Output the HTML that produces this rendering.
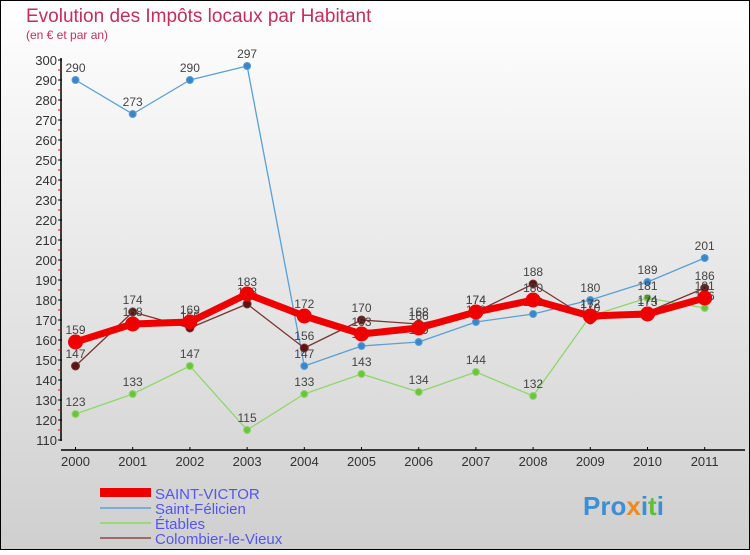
<!DOCTYPE html>
<html><head><meta charset="utf-8"><style>
body{margin:0;width:750px;height:550px;overflow:hidden;font-family:"Liberation Sans",sans-serif}
svg text{font-family:"Liberation Sans",sans-serif}
</style></head><body>
<svg id="chart" width="750" height="550" xmlns="http://www.w3.org/2000/svg">
<defs><linearGradient id="bg" x1="0" y1="0" x2="0" y2="1"><stop offset="0" stop-color="#ffffff"/><stop offset="1" stop-color="#cfcfcf"/></linearGradient></defs>
<rect x="0.5" y="0.5" width="749" height="549" fill="url(#bg)" stroke="#000"/>
<text x="26" y="22" font-size="19" fill="#c0305a">Evolution des Impôts locaux par Habitant</text>
<text x="26" y="39" font-size="12" fill="#c0305a">(en € et par an)</text>
<g id="axes"></g>
<g id="series"></g>
<g id="legend">
<rect x="100" y="488" width="51" height="9" fill="#e00"/>
<text x="155" y="499" font-size="15" fill="#5555ee">SAINT-VICTOR</text>
<line x1="100" y1="508" x2="151" y2="508" stroke="#7aaed6" stroke-width="2"/>
<text x="155" y="514" font-size="15" fill="#5555ee">Saint-Félicien</text>
<line x1="100" y1="523" x2="151" y2="523" stroke="#9bd87a" stroke-width="2"/>
<text x="155" y="529" font-size="15" fill="#5555ee">Étables</text>
<line x1="100" y1="538" x2="151" y2="538" stroke="#a06a6a" stroke-width="2"/>
<text x="155" y="544" font-size="15" fill="#5555ee">Colombier-le-Vieux</text>
</g>
<text x="583" y="515" font-size="26" font-weight="bold" fill="#3a8fd6">Pro<tspan fill="#f08a1a">x</tspan>i<tspan fill="#5cbf3a">t</tspan>i</text>
</svg>
<script>
const years = [2000,2001,2002,2003,2004,2005,2006,2007,2008,2009,2010,2011];
const yTicks = [110,120,130,140,150,160,170,180,190,200,210,220,230,240,250,260,270,280,290,300];
const saintVictor = [159,168,169,183,172,163,166,174,180,172,173,181];
const saintFelicien = [290,273,290,297,147,157,159,169,173,180,189,201];
const etables = [123,133,147,115,133,143,134,144,132,172,181,176];
const colombier = [147,174,166,178,156,170,168,174,188,170,174,186];

const NS="http://www.w3.org/2000/svg";
function xPos(i){return 75.5+i*57.2;}
function yPos(v){return 440-(v-110)*2;}
function mk(tag,attrs,parent){const e=document.createElementNS(NS,tag);for(const k in attrs)e.setAttribute(k,attrs[k]);parent.appendChild(e);return e;}
const axes=document.getElementById('axes');
const yAxis=mk('line',{x1:61,y1:58,x2:61,y2:441,stroke:'#000','stroke-width':1.5},axes);


const xAxis=mk('line',{x1:61,y1:450,x2:745,y2:450,stroke:'#000','stroke-width':1.5},axes);


yTicks.forEach(v=>{
  const y=yPos(v);
  mk('line',{x1:58,y1:y,x2:62,y2:y,stroke:'#000'},axes);
  if(v<300){const m=mk('line',{x1:58,y1:y-10,x2:61,y2:y-10,stroke:'#e00'},axes);
    
    }
  const t=mk('text',{x:57,y:y+5,'font-size':13,fill:'#333','text-anchor':'end'},axes);
  t.textContent=v;
  
  
});
years.forEach((yr,i)=>{
  const x=xPos(i);
  mk('line',{x1:x,y1:447,x2:x,y2:450,stroke:'#000'},axes);
  const t=mk('text',{x:x,y:466,'font-size':13,fill:'#333','text-anchor':'middle'},axes);
  t.textContent=yr;
  
  
});
const sg=document.getElementById('series');
function drawSeries(data,color,dot,lw,r,name){
  const g=mk('g',{},sg);
  
  
  const p=mk('polyline',{points:data.map((v,i)=>xPos(i)+','+yPos(v)).join(' '),fill:'none',stroke:color,'stroke-width':lw,'stroke-linejoin':'round'},g);
  
  
  data.forEach((v,i)=>{
    const c=mk('circle',{cx:xPos(i),cy:yPos(v),r:r,fill:dot,stroke:color,'stroke-width':1},g);
    
    
    const t=mk('text',{x:xPos(i),y:yPos(v)-8,'font-size':12,fill:'#444','text-anchor':'middle'},g);
    t.textContent=v;
    
    
  });
}
drawSeries(saintFelicien,'#5a9fd6','#3a86c8',1.3,3.5,'saint-felicien');
drawSeries(etables,'#8fd66a','#6cc43e',1.3,3.5,'etables');
drawSeries(colombier,'#7a3535','#5a1414',1.3,4,'colombier');
drawSeries(saintVictor,'#ee0000','#ee0000',7,7,'saint-victor');
</script>
</body></html>
